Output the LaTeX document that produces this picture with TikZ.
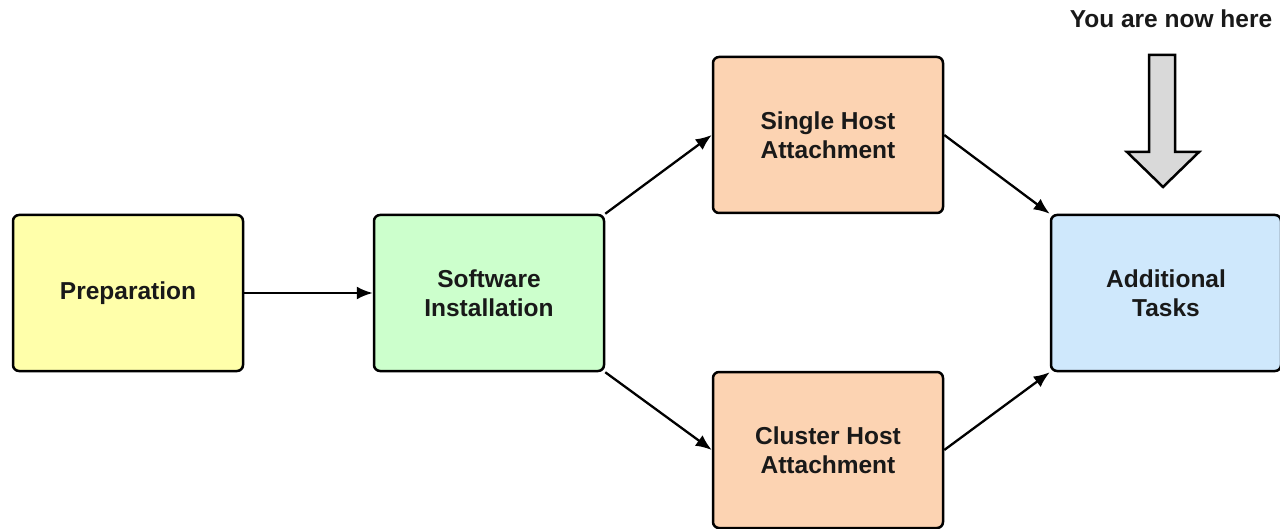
\documentclass[tikz,border=0pt]{standalone}
\usepackage{fontspec}
\setmainfont{Liberation Sans}
\usetikzlibrary{arrows.meta,shapes.arrows}
\definecolor{cyellow}{HTML}{FFFFAA}
\definecolor{cgreen}{HTML}{CCFFCC}
\definecolor{corange}{HTML}{FCD3B2}
\definecolor{cblue}{HTML}{CFE8FC}
\definecolor{cgray}{HTML}{D9D9D9}
\tikzset{
  box/.style={draw=black, line width=2.5pt, rounded corners=6pt, minimum width=230pt, minimum height=156pt, align=center, font=\fontsize{24.5pt}{29pt}\selectfont\bfseries, text=black!90, inner sep=0pt},
  conn/.style={line width=2.3pt, -{Latex[length=16pt,width=13pt]}}
}
\begin{document}
\begin{tikzpicture}[x=1pt,y=-1pt]
\useasboundingbox (0,0) rectangle (1280,529);
\node[box, fill=cyellow] (prep) at (128,293) {Preparation};
\node[box, fill=cgreen] (soft) at (489,293) {Software\\Installation};
\node[box, fill=corange] (single) at (828,135) {Single Host\\Attachment};
\node[box, fill=corange] (cluster) at (828,450) {Cluster Host\\Attachment};
\node[box, fill=cblue] (add) at (1166,293) {Additional\\Tasks};
\node[font=\fontsize{24.5pt}{26pt}\selectfont\bfseries, text=black!90, anchor=base] (here) at (1171,28) {You are now here};
\draw[line width=2.5pt, fill=cgray, line join=miter] (1149,55) coordinate (ar) -- (1175,55) -- (1175,152) -- (1199,152) -- (1163,187) coordinate (artip) -- (1127,152) -- (1149,152) -- cycle;
\draw[conn] (prep.east) -- (soft.west);
\draw[conn] (soft.north east) -- (single.west);
\draw[conn] (soft.south east) -- (cluster.west);
\draw[conn] (single.east) -- (add.north west);
\draw[conn] (cluster.east) -- (add.south west);
\end{tikzpicture}
\end{document}
